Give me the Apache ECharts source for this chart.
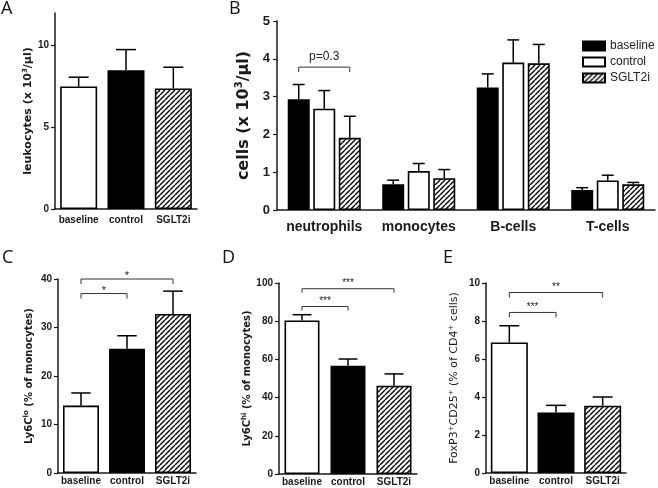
<!DOCTYPE html>
<html>
<head>
<meta charset="utf-8">
<script src="https://cdn.jsdelivr.net/npm/echarts@6/dist/echarts.min.js"></script>
<style>
html,body{margin:0;padding:0;background:#fff;}
#c{width:658px;height:488px;}
</style>
</head>
<body>
<div id="c"></div>
<script>
// ---------- DATA ----------
const groups = ['baseline', 'control', 'SGLT2i'];
const cellTypes = ['neutrophils', 'monocytes', 'B-cells', 'T-cells'];

// A: leukocytes (x10^3/µl)
const leukMean = [7.5, 8.5, 7.38];
const leukSem  = [0.57, 1.26, 1.3];
const ticksA = [0, 5, 10];

// B: cells (x10^3/µl), per group across cell types
const bBaselineMean = [2.93, 0.68, 3.24, 0.53];
const bBaselineSem  = [0.39, 0.11, 0.36, 0.06];
const bControlMean  = [2.68, 1.03, 3.90, 0.78];
const bControlSem   = [0.48, 0.20, 0.60, 0.14];
const bSglt2Mean    = [1.91, 0.84, 3.88, 0.68];
const bSglt2Sem     = [0.57, 0.23, 0.50, 0.05];
// bracket: [category, fromGroup, toGroup, y]
const bBrackets = [[0, 0, 2, 3.78]];
const bBracketLabels = ['p=0.3'];

// C: Ly6C lo (% of monocytes)
const cMean = [13.9, 25.6, 32.8];
const cSem  = [2.6, 2.7, 4.7];
const cBrackets = [[0, 1, 37], [0, 2, 40]];
const cBracketLabels = ['*', '*'];

// D: Ly6C hi (% of monocytes)
const dMean = [80.4, 56.7, 46.2];
const dSem  = [3.0, 3.5, 6.2];
const dBrackets = [[0, 1, 87.7], [0, 2, 97]];
const dBracketLabels = ['***', '***'];

// E: FoxP3+CD25+ (% of CD4+ cells)
const eMean = [6.87, 3.19, 3.54];
const eSem  = [0.88, 0.37, 0.46];
const eBrackets = [[0, 1, 8.45], [0, 2, 9.5]];
const eBracketLabels = ['***', '**'];

// ---------- STYLE ----------
const hatch = document.createElement('canvas');
hatch.width = 5; hatch.height = 5;
(function(){
  const g = hatch.getContext('2d');
  g.fillStyle = '#fff'; g.fillRect(0,0,5,5);
  g.strokeStyle = '#000'; g.lineWidth = 1.4;
  g.beginPath();
  for (const k of [-5, 0, 5]) { g.moveTo(k, 5); g.lineTo(k + 5, 0); }
  g.stroke();
})();
const hatchFill = { image: hatch, repeat: 'repeat' };
const BLACK = '#000', WHITE = '#fff', AX = '#1a1a1a';
const LAB = 'Liberation Sans, Arial, sans-serif';
const DJ = 'DejaVu Sans, sans-serif';

function barStyle(fill) { return { color: fill, borderColor: BLACK, borderWidth: 1.6 }; }

const grids = [
  { left: 55,  top: 13,  width: 142, height: 196 },  // A
  { left: 277, top: 21,  width: 378, height: 189 },  // B
  { left: 58,  top: 279, width: 138, height: 194 },  // C
  { left: 279, top: 283, width: 138, height: 191 },  // D
  { left: 486, top: 283, width: 140, height: 190 }   // E
];

function xAx(gi, data, fs, margin) {
  return {
    type: 'category', gridIndex: gi, data: data,
    axisLine: { lineStyle: { color: AX, width: 1.5 } },
    axisTick: { alignWithLabel: true, length: 3, lineStyle: { color: AX, width: 1.2 } },
    axisLabel: { fontFamily: LAB, fontWeight: 'bold', fontSize: fs, color: AX, margin: margin, interval: 0 }
  };
}
function yAx(gi, min, max, interval, name, nameGap, nameStyle, fs, margin, custom) {
  const o = {
    type: 'value', gridIndex: gi, min: min, max: max, interval: interval,
    axisLine: { show: true, lineStyle: { color: AX, width: 1.5 } },
    axisTick: { show: true, length: 4, lineStyle: { color: AX, width: 1.2 } },
    splitLine: { show: false },
    axisLabel: { fontFamily: LAB, fontWeight: 'bold', fontSize: fs, color: AX, margin: margin },
    name: name, nameLocation: 'middle', nameRotate: 90, nameGap: nameGap,
    nameTextStyle: nameStyle
  };
  if (custom) { o.axisTick.customValues = custom; o.axisLabel.customValues = custom; }
  return o;
}
function richName(fs, weight, family) {
  return {
    fontFamily: family, fontWeight: weight, fontSize: fs, color: AX,
    rich: {
      b: { fontFamily: family, fontWeight: weight, fontSize: fs, color: AX },
      s: { fontFamily: family, fontWeight: weight, fontSize: Math.round(fs * 0.65), color: AX, padding: [0, 0, Math.round(fs * 0.55), 0] }
    }
  };
}

function errSeries(gi, mean, sem, offsetPx, barW, name) {
  const data = mean.map((m, i) => [i, m, m + sem[i]]);
  return {
    type: 'custom', name: name, xAxisIndex: gi, yAxisIndex: gi, z: 3,
    encode: { x: 0, y: [1, 2] }, data: data, silent: true,
    renderItem: function (params, api) {
      const c = api.value(0);
      const p0 = api.coord([c, api.value(1)]);
      const p1 = api.coord([c, api.value(2)]);
      const x = p0[0] + offsetPx;
      const hw = barW * 0.27;
      const st = { stroke: BLACK, lineWidth: 1.5 };
      return { type: 'group', children: [
        { type: 'line', shape: { x1: x, y1: p0[1], x2: x, y2: p1[1] }, style: st },
        { type: 'line', shape: { x1: x - hw, y1: p1[1], x2: x + hw, y2: p1[1] }, style: st }
      ]};
    }
  };
}
function bracketSeries(gi, rows, labels, pitch, fs, textGap, drop) {
  return {
    type: 'custom', xAxisIndex: gi, yAxisIndex: gi, z: 4, silent: true,
    encode: pitch ? { x: 0, y: 3 } : { x: [0, 1], y: 2 }, data: rows,
    renderItem: function (params, api) {
      let x1, x2, y;
      if (pitch) {
        const p = api.coord([api.value(0), api.value(3)]);
        x1 = p[0] + (api.value(1) - 1) * pitch;
        x2 = p[0] + (api.value(2) - 1) * pitch;
        y = p[1];
      } else {
        const a = api.coord([api.value(0), api.value(2)]);
        const b = api.coord([api.value(1), api.value(2)]);
        x1 = a[0]; x2 = b[0]; y = a[1];
      }
      return { type: 'group', children: [
        { type: 'polyline', shape: { points: [[x1, y + drop], [x1, y], [x2, y], [x2, y + drop]] },
          style: { stroke: '#333', lineWidth: 1, fill: null } },
        { type: 'text', style: { text: labels[params.dataIndex], x: (x1 + x2) / 2, y: y - textGap,
          align: 'center', verticalAlign: 'middle', fontSize: fs, fontFamily: LAB, fill: '#222' } }
      ]};
    }
  };
}

function singleBars(gi, mean, barW, name) {
  const fills = [WHITE, BLACK, hatchFill];
  return {
    type: 'bar', name: name, xAxisIndex: gi, yAxisIndex: gi, barWidth: barW,
    data: mean.map((v, i) => ({ value: v, itemStyle: barStyle(fills[i]) })),
    itemStyle: barStyle(WHITE), z: 2
  };
}

const bW = 22, bGap = 0.16, bPitch = bW * (1 + bGap);
const option = {
  animation: false,
  backgroundColor: '#fff',
  grid: grids,
  xAxis: [
    xAx(0, groups, 10, 6),
    xAx(1, cellTypes, 14, 10),
    xAx(2, groups, 10, 3),
    xAx(3, groups, 10, 3),
    xAx(4, groups, 10, 3)
  ],
  yAxis: [
    yAx(0, 0, 12, 5, '{b|leukocytes (x 10}{s|3}{b|/µl)}', 19, richName(11, 'bold', DJ), 10, 6, ticksA),
    yAx(1, 0, 5, 1, '{b|cells (x 10}{s|3}{b|/µl)}', 22, richName(16, 'bold', DJ), 13, 7),
    yAx(2, 0, 40, 10, '{b|Ly6C}{s|lo}{b| (% of monocytes)}', 22, richName(10, 'bold', DJ), 10, 6),
    yAx(3, 0, 100, 20, '{b|Ly6C}{s|hi}{b| (% of monocytes)}', 23, richName(10, 'bold', DJ), 10, 6),
    yAx(4, 0, 10, 2, '{b|FoxP3}{s|+}{b|CD25}{s|+}{b| (% of CD4}{s|+}{b| cells)}', 25, richName(11, 'normal', DJ), 10, 6)
  ],
  legend: {
    data: ['baseline', 'control', 'SGLT2i'],
    orient: 'vertical', left: 577, top: 35,
    itemWidth: 22, itemHeight: 9, itemGap: 4,
    icon: 'rect',
    textStyle: { fontFamily: LAB, fontSize: 12, color: '#222', lineHeight: 12 },
    selectedMode: false
  },
  graphic: [
    { type: 'text', left: 1, top: 0, style: { text: 'A', fontFamily: 'Open Sans, sans-serif', fontSize: 18, fill: '#111' } },
    { type: 'text', left: 229, top: 0, style: { text: 'B', fontFamily: 'Open Sans, sans-serif', fontSize: 18, fill: '#111' } },
    { type: 'text', left: 2, top: 249, style: { text: 'C', fontFamily: 'Open Sans, sans-serif', fontSize: 18, fill: '#111' } },
    { type: 'text', left: 222, top: 249, style: { text: 'D', fontFamily: 'Open Sans, sans-serif', fontSize: 18, fill: '#111' } },
    { type: 'text', left: 443, top: 249, style: { text: 'E', fontFamily: 'Open Sans, sans-serif', fontSize: 18, fill: '#111' } }
  ],
  series: [
    // A
    singleBars(0, leukMean, 37, 'A'),
    errSeries(0, leukMean, leukSem, 0, 37, 'Aerr'),
    // B
    { type: 'bar', name: 'baseline', xAxisIndex: 1, yAxisIndex: 1, barWidth: bW, barGap: (bGap * 100) + '%',
      data: bBaselineMean, itemStyle: barStyle(BLACK), z: 2 },
    { type: 'bar', name: 'control', xAxisIndex: 1, yAxisIndex: 1, barWidth: bW, barGap: (bGap * 100) + '%',
      data: bControlMean, itemStyle: barStyle(WHITE), z: 2 },
    { type: 'bar', name: 'SGLT2i', xAxisIndex: 1, yAxisIndex: 1, barWidth: bW, barGap: (bGap * 100) + '%',
      data: bSglt2Mean, itemStyle: barStyle(hatchFill), z: 2 },
    errSeries(1, bBaselineMean, bBaselineSem, -bPitch, bW, 'Berr0'),
    errSeries(1, bControlMean, bControlSem, 0, bW, 'Berr1'),
    errSeries(1, bSglt2Mean, bSglt2Sem, bPitch, bW, 'Berr2'),
    bracketSeries(1, bBrackets, bBracketLabels, bPitch, 12, 10, 5),
    // C
    singleBars(2, cMean, 36, 'C'),
    errSeries(2, cMean, cSem, 0, 36, 'Cerr'),
    bracketSeries(2, cBrackets, cBracketLabels, 0, 11, 3, 5),
    // D
    singleBars(3, dMean, 35, 'D'),
    errSeries(3, dMean, dSem, 0, 35, 'Derr'),
    bracketSeries(3, dBrackets, dBracketLabels, 0, 10, 5, 4),
    // E
    singleBars(4, eMean, 37, 'E'),
    errSeries(4, eMean, eSem, 0, 37, 'Eerr'),
    bracketSeries(4, eBrackets, eBracketLabels, 0, 10, 5, 5)
  ]
};
const chart = echarts.init(document.getElementById('c'), null, { renderer: 'canvas' });
chart.setOption(option);
</script>
</body>
</html>
